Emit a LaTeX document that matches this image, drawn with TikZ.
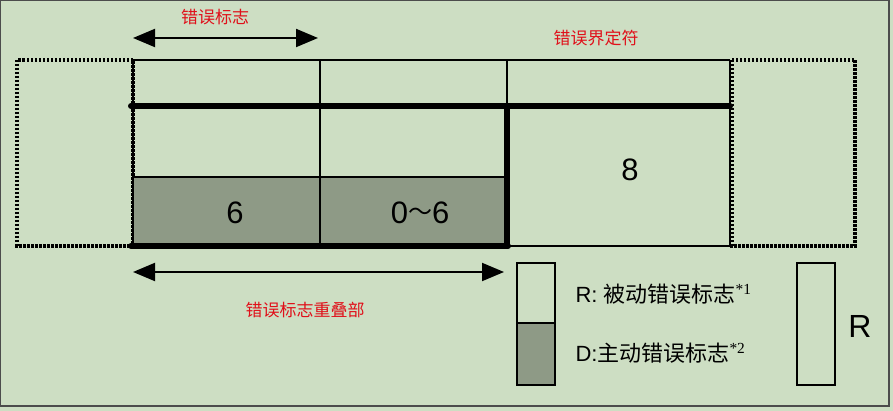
\documentclass[tikz,border=0pt]{standalone}
\usepackage{fontspec}
\setmainfont{Liberation Sans}
\newfontfamily\cjk{Noto Sans CJK SC}
\usetikzlibrary{arrows.meta}
\definecolor{bg}{HTML}{CDDEC3}
\definecolor{gf}{HTML}{8E9A86}
\definecolor{rd}{HTML}{E0101A}
\begin{document}
\begin{tikzpicture}[x=1pt,y=-1pt,
  thin/.style={draw=black,line width=1.8pt},
  thick/.style={draw=black,line width=6pt},
  dotbox/.style={draw=black,line width=4pt,dash pattern=on 2.5pt off 1.5pt},
  redlbl/.style={text=rd,font=\cjk\fontsize{17}{19}\selectfont},
  num/.style={font=\fontsize{31}{33}\selectfont},
  leg/.style={font=\fontsize{22}{24}\selectfont,anchor=west},
  dim/.style={line width=2pt,{Triangle[length=22pt,width=18pt]}-{Triangle[length=22pt,width=18pt]}}]
\fill[bg] (0,0) rectangle (893,411);
\useasboundingbox (0,0) rectangle (893,411);
\draw[line width=1.8pt,draw=black!70] (0,0) rectangle (889,406);
% dotted side boxes
\draw[dotbox] (17,60) rectangle (133,246);
\draw[dotbox] (732,60) rectangle (855,246);
% grey fill
\fill[gf] (133,177) rectangle (507,246);
% grid
\draw[thin] (133,60) -- (730,60);
\draw[thin] (133,60) -- (133,246);
\draw[thin] (320,60) -- (320,246);
\draw[thin] (507,60) -- (507,106);
\draw[thin] (730,60) -- (730,246);
\draw[thin] (133,177) -- (507,177);
\draw[thin] (507,246) -- (730,246);
\draw[thick,line cap=round] (131,106) -- (730,106);
\draw[thick] (507,106) -- (507,246);
\draw[thick,line cap=round] (131,246) -- (508,246);
\node[num] (n6) at (235,213) {6};
\node[num] (n06) at (420,213) {0\raisebox{3pt}{\fontsize{24}{24}\selectfont\cjk ～}6};
\node[num] (n8) at (630,170) {8};
% arrows
\coordinate (a1) at (133,38); \coordinate (a2) at (318,38);
\draw[dim] (a1) -- (a2);
\node[redlbl] (l1) at (215,17) {错误标志};
\node[redlbl] (l2) at (596,38) {错误界定符};
\coordinate (b1) at (133,272); \coordinate (b2) at (504,272);
\draw[dim] (b1) -- (b2);
\node[redlbl] (l3) at (305,310) {错误标志重叠部};
% legend
\fill[gf] (517,323) rectangle (555,385);
\draw[thin] (517,263) rectangle (555,385);
\draw[thin] (517,323) -- (555,323);
\node[leg] (r1) at (572,294) {R: {\cjk 被动错误标志}\textsuperscript{\fontspec{Liberation Serif}*1}};
\node[leg] (r2) at (572,353) {D:{\cjk 主动错误标志}\textsuperscript{\fontspec{Liberation Serif}*2}};
\draw[thin] (797,263) rectangle (835,385);
\node[font=\fontsize{32}{34}\selectfont] (rr) at (860,326) {R};
\end{tikzpicture}
\end{document}
